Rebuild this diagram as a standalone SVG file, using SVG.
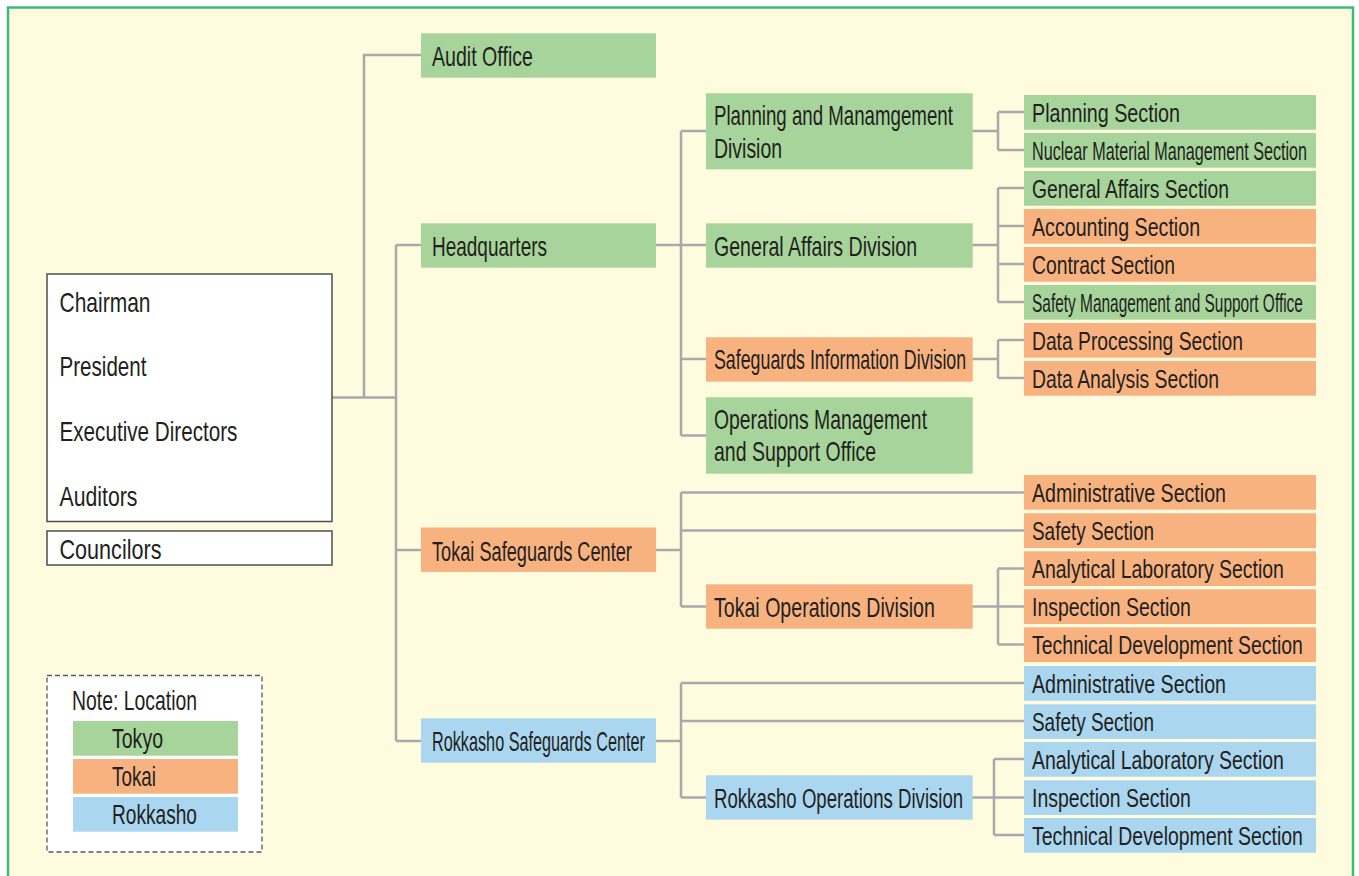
<svg xmlns="http://www.w3.org/2000/svg" width="1359" height="876" viewBox="0 0 1359 876">
<style>
.g{fill:#A6D49B}.o{fill:#F8B280}.b{fill:#AAD6F0}
.t{font-family:"Liberation Sans",Arial,sans-serif;font-size:27px;fill:#231F20}
.s{font-family:"Liberation Sans",Arial,sans-serif;font-size:26.5px;fill:#231F20}
.ss{font-family:"Liberation Sans",Arial,sans-serif;font-size:25px;fill:#231F20}
.w{fill:#FFFFFF;stroke:#4D4D4D;stroke-width:1.5}
.c{fill:none;stroke:#A7A9AC;stroke-width:2.5}
</style>
<rect x="0" y="0" width="1359" height="876" fill="#FFFFFF"/>
<rect x="8" y="7.5" width="1345" height="880" fill="#FFFBDE" stroke="#3DBA78" stroke-width="2.5"/>

<g id="connectors" class="c">
<path d="M332 397.5H396M364 397.5V55H421M396 245V741M396 245H421M396 550H421M396 741H421"/>
<path d="M656 245H681M681 131V435.5M681 131H706M681 245H706M681 359H706M681 435.5H706"/>
<path d="M972 131H998M998 112V150M998 112H1024M998 150H1024"/>
<path d="M972 245H998M998 188V302M998 188H1024M998 226H1024M998 264H1024M998 302H1024"/>
<path d="M972 359H998M998 340V378M998 340H1024M998 378H1024"/>
<path d="M656 550H681M681 492.5V606.5M681 492.5H1024M681 530.5H1024M681 606.5H706"/>
<path d="M972 606.5H998M998 568.5V644.5M998 568.5H1024M998 606.5H1024M998 644.5H1024"/>
<path d="M656 741H681M681 683V797.5M681 683H1024M681 721H1024M681 797.5H706"/>
<path d="M972 797.5H994M994 759V835M994 759H1024M994 797.5H1024M994 835H1024"/>
</g>

<g id="board">
<rect class="w" x="47" y="274" width="285" height="247.5"/>
<text class="t" transform="matrix(0.778 0 0 1 59.5 311.5)" textLength="117" lengthAdjust="spacingAndGlyphs">Chairman</text>
<text class="t" transform="matrix(0.763 0 0 1 59.5 375.5)" textLength="114" lengthAdjust="spacingAndGlyphs">President</text>
<text class="t" transform="matrix(0.765 0 0 1 59.5 440.5)" textLength="232.6" lengthAdjust="spacingAndGlyphs">Executive Directors</text>
<text class="t" transform="matrix(0.788 0 0 1 59.5 505.5)" textLength="99" lengthAdjust="spacingAndGlyphs">Auditors</text>
</g>
<g id="councilors">
<rect class="w" x="47" y="531" width="285" height="34"/>
<text class="t" transform="matrix(0.8 0 0 1 59.5 558.5)" textLength="127.5" lengthAdjust="spacingAndGlyphs">Councilors</text>
</g>

<g id="audit-office"><rect class="g" x="421" y="33.3" width="235" height="44.4"/><text class="t" transform="matrix(0.723 0 0 1 432 66)" textLength="139.6" lengthAdjust="spacingAndGlyphs">Audit Office</text></g>
<g id="headquarters"><rect class="g" x="421" y="223.3" width="235" height="44.4"/><text class="t" transform="matrix(0.703 0 0 1 432 256)" textLength="163.6" lengthAdjust="spacingAndGlyphs">Headquarters</text></g>
<g id="tokai-center"><rect class="o" x="421" y="527.5" width="235" height="44.4"/><text class="t" transform="matrix(0.666 0 0 1 432 560.5)" textLength="300.1" lengthAdjust="spacingAndGlyphs">Tokai Safeguards Center</text></g>
<g id="rokkasho-center"><rect class="b" x="421" y="718.3" width="235" height="44.4"/><text class="t" transform="matrix(0.601 0 0 1 432 751)" textLength="354.2" lengthAdjust="spacingAndGlyphs">Rokkasho Safeguards Center</text></g>

<g id="planning-division"><rect class="g" x="706" y="93.3" width="266.7" height="76"/>
<text class="t" transform="matrix(0.692 0 0 1 714 124.5)" textLength="345.2" lengthAdjust="spacingAndGlyphs">Planning and Manamgement</text>
<text class="t" transform="matrix(0.72 0 0 1 714 157.5)" textLength="94.5" lengthAdjust="spacingAndGlyphs">Division</text></g>
<g id="general-affairs-division"><rect class="g" x="706" y="223.3" width="266.7" height="44.4"/><text class="t" transform="matrix(0.72 0 0 1 714 256)" textLength="282.1" lengthAdjust="spacingAndGlyphs">General Affairs Division</text></g>
<g id="safeguards-information-division"><rect class="o" x="706" y="337.3" width="266.7" height="44.4"/><text class="t" transform="matrix(0.659 0 0 1 714 368.5)" textLength="382.6" lengthAdjust="spacingAndGlyphs">Safeguards Information Division</text></g>
<g id="operations-management-office"><rect class="g" x="706" y="397.3" width="266.7" height="76.4"/>
<text class="t" transform="matrix(0.717 0 0 1 714 429)" textLength="297.1" lengthAdjust="spacingAndGlyphs">Operations Management</text>
<text class="t" transform="matrix(0.72 0 0 1 714 460.5)" textLength="225.1" lengthAdjust="spacingAndGlyphs">and Support Office</text></g>
<g id="tokai-operations-division"><rect class="o" x="706" y="584.3" width="266.7" height="44.4"/><text class="t" transform="matrix(0.718 0 0 1 714 617)" textLength="307.6" lengthAdjust="spacingAndGlyphs">Tokai Operations Division</text></g>
<g id="rokkasho-operations-division"><rect class="b" x="706" y="775.3" width="266.7" height="44.4"/><text class="t" transform="matrix(0.689 0 0 1 714 808)" textLength="361.6" lengthAdjust="spacingAndGlyphs">Rokkasho Operations Division</text></g>

<g id="planning-section"><rect class="g" x="1024" y="95" width="292" height="34.7"/><text class="s" transform="matrix(0.744 0 0 1 1032 121.7)" textLength="198.9" lengthAdjust="spacingAndGlyphs">Planning Section</text></g>
<g id="nuclear-material-section"><rect class="g" x="1024" y="133" width="292" height="34.7"/><text class="ss" transform="matrix(0.647 0 0 1 1032 159.5)" textLength="425.2" lengthAdjust="spacingAndGlyphs">Nuclear Material Management Section</text></g>
<g id="general-affairs-section"><rect class="g" x="1024" y="171" width="292" height="34.7"/><text class="s" transform="matrix(0.723 0 0 1 1032 197.7)" textLength="272.5" lengthAdjust="spacingAndGlyphs">General Affairs Section</text></g>
<g id="accounting-section"><rect class="o" x="1024" y="209" width="292" height="34.7"/><text class="s" transform="matrix(0.741 0 0 1 1032 235.7)" textLength="226.8" lengthAdjust="spacingAndGlyphs">Accounting Section</text></g>
<g id="contract-section"><rect class="o" x="1024" y="247" width="292" height="34.7"/><text class="s" transform="matrix(0.73 0 0 1 1032 273.7)" textLength="195.9" lengthAdjust="spacingAndGlyphs">Contract Section</text></g>
<g id="safety-management-office"><rect class="g" x="1024" y="285" width="292" height="34.7"/><text class="ss" transform="matrix(0.617 0 0 1 1032 311.5)" textLength="439.1" lengthAdjust="spacingAndGlyphs">Safety Management and Support Office</text></g>
<g id="data-processing-section"><rect class="o" x="1024" y="323" width="292" height="34.7"/><text class="s" transform="matrix(0.727 0 0 1 1032 349.7)" textLength="290.1" lengthAdjust="spacingAndGlyphs">Data Processing Section</text></g>
<g id="data-analysis-section"><rect class="o" x="1024" y="361" width="292" height="34.7"/><text class="s" transform="matrix(0.726 0 0 1 1032 387.7)" textLength="257.7" lengthAdjust="spacingAndGlyphs">Data Analysis Section</text></g>

<g id="tokai-administrative-section"><rect class="o" x="1024" y="475" width="292" height="34.7"/><text class="s" transform="matrix(0.74 0 0 1 1032 501.7)" textLength="262.1" lengthAdjust="spacingAndGlyphs">Administrative Section</text></g>
<g id="tokai-safety-section"><rect class="o" x="1024" y="513.3" width="292" height="34.7"/><text class="s" transform="matrix(0.714 0 0 1 1032 540)" textLength="170.9" lengthAdjust="spacingAndGlyphs">Safety Section</text></g>
<g id="tokai-analytical-section"><rect class="o" x="1024" y="551.3" width="292" height="34.7"/><text class="s" transform="matrix(0.734 0 0 1 1032 578)" textLength="343.2" lengthAdjust="spacingAndGlyphs">Analytical Laboratory Section</text></g>
<g id="tokai-inspection-section"><rect class="o" x="1024" y="589.3" width="292" height="34.7"/><text class="s" transform="matrix(0.734 0 0 1 1032 616)" textLength="216.5" lengthAdjust="spacingAndGlyphs">Inspection Section</text></g>
<g id="tokai-technical-section"><rect class="o" x="1024" y="627.3" width="292" height="34.7"/><text class="s" transform="matrix(0.727 0 0 1 1032 654)" textLength="372.6" lengthAdjust="spacingAndGlyphs">Technical Development Section</text></g>

<g id="rokkasho-administrative-section"><rect class="b" x="1024" y="666" width="292" height="34.7"/><text class="s" transform="matrix(0.74 0 0 1 1032 692.7)" textLength="262.1" lengthAdjust="spacingAndGlyphs">Administrative Section</text></g>
<g id="rokkasho-safety-section"><rect class="b" x="1024" y="704.3" width="292" height="34.7"/><text class="s" transform="matrix(0.714 0 0 1 1032 731)" textLength="170.9" lengthAdjust="spacingAndGlyphs">Safety Section</text></g>
<g id="rokkasho-analytical-section"><rect class="b" x="1024" y="742" width="292" height="34.7"/><text class="s" transform="matrix(0.734 0 0 1 1032 768.7)" textLength="343.2" lengthAdjust="spacingAndGlyphs">Analytical Laboratory Section</text></g>
<g id="rokkasho-inspection-section"><rect class="b" x="1024" y="780.3" width="292" height="34.7"/><text class="s" transform="matrix(0.734 0 0 1 1032 807)" textLength="216.5" lengthAdjust="spacingAndGlyphs">Inspection Section</text></g>
<g id="rokkasho-technical-section"><rect class="b" x="1024" y="818" width="292" height="34.7"/><text class="s" transform="matrix(0.727 0 0 1 1032 844.7)" textLength="372.6" lengthAdjust="spacingAndGlyphs">Technical Development Section</text></g>

<g id="legend">
<rect x="47" y="675.5" width="215" height="176.5" fill="#FFFFFF" stroke="#5A5A5A" stroke-width="1.3" stroke-dasharray="5,3"/>
<text class="t" transform="matrix(0.718 0 0 1 72 710)" textLength="174.1" lengthAdjust="spacingAndGlyphs">Note: Location</text>
<rect class="g" x="73" y="721" width="165" height="34.7"/>
<text class="t" transform="matrix(0.694 0 0 1 112 747.5)" textLength="73.5" lengthAdjust="spacingAndGlyphs">Tokyo</text>
<rect class="o" x="73" y="759" width="165" height="34.7"/>
<text class="t" transform="matrix(0.667 0 0 1 112 785.5)" textLength="66" lengthAdjust="spacingAndGlyphs">Tokai</text>
<rect class="b" x="73" y="797" width="165" height="34.7"/>
<text class="t" transform="matrix(0.708 0 0 1 112 823.5)" textLength="120" lengthAdjust="spacingAndGlyphs">Rokkasho</text>
</g>
</svg>
